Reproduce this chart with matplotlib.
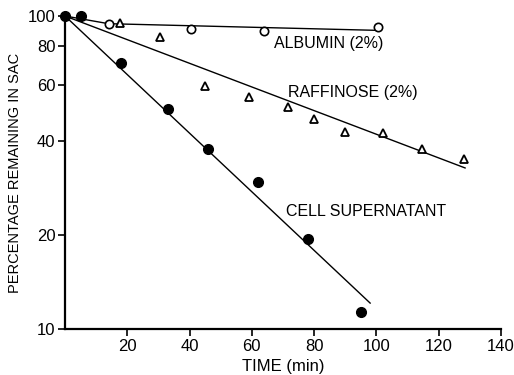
import numpy as np
import matplotlib
matplotlib.use("Agg")
import matplotlib.pyplot as plt
from matplotlib.ticker import FixedLocator, NullLocator

plt.rcParams["font.family"] = ["Liberation Sans", "DejaVu Sans"]

# measured points
cell_t = [0, 5, 18, 33, 46, 62, 78, 95]
cell_pct = [100, 100, 71, 50.5, 37.5, 29.5, 19.4, 11.3]
albumin_t = [0, 14, 40.5, 64, 100.5]
albumin_pct = [100, 94.3, 91, 89.6, 92.2]
raff_t = [5, 17.5, 30.5, 45, 59, 71.5, 80, 90, 102, 114.5, 128]
raff_pct = [100, 95, 85.7, 59.7, 55.1, 51.2, 46.9, 42.6, 42.3, 37.6, 34.9]

# drawn fit lines
cell_fit_t = [0, 98]
cell_fit_pct = [100, 12.1]
albumin_fit_t = [0, 14, 100]
albumin_fit_pct = [100, 94.5, 90]
raff_fit_t = [0, 128.5]
raff_fit_pct = [100, 32.7]

xticks = [20, 40, 60, 80, 100, 120, 140]
yticks = [10, 20, 40, 60, 80, 100]

fig = plt.figure(figsize=(5.14, 3.75), dpi=100)
ax = fig.add_axes([0.1265, 0.1227, 0.848, 0.8346])

ax.plot(cell_fit_t, cell_fit_pct, color="black", lw=1.0, zorder=2)
ax.plot(albumin_fit_t, albumin_fit_pct, color="black", lw=1.0, zorder=2)
ax.plot(raff_fit_t, raff_fit_pct, color="black", lw=1.0, zorder=2)

ax.plot(raff_t, raff_pct, ls="none", marker="^", ms=6, mfc="white", mec="black", mew=1.3, zorder=3)
ax.plot(albumin_t[1:], albumin_pct[1:], ls="none", marker="o", ms=6, mfc="white", mec="black", mew=1.2, zorder=3)
ax.plot(cell_t, cell_pct, ls="none", marker="o", ms=7, mfc="black", mec="black", zorder=4, clip_on=False)

ax.set_yscale("log")
ax.set_xlim(0, 140)
ax.set_ylim(10, 100)
ax.yaxis.set_major_locator(FixedLocator(yticks))
ax.yaxis.set_minor_locator(NullLocator())
ax.set_yticklabels([str(v) for v in yticks])
ax.set_xticks(xticks)

for s in ["top", "right"]:
    ax.spines[s].set_visible(False)
for s in ["left", "bottom"]:
    ax.spines[s].set_linewidth(1.6)
ax.tick_params(axis="both", direction="out", length=5, width=1.2, labelsize=12, pad=2)

ax.text(67, 79, "ALBUMIN (2%)", fontsize=11.5)
ax.text(71.5, 55.3, "RAFFINOSE (2%)", fontsize=11.5)
ax.text(71, 23, "CELL SUPERNATANT", fontsize=11.5)

ax.set_xlabel("TIME (min)", fontsize=12, labelpad=4)
ax.set_ylabel("PERCENTAGE REMAINING IN SAC", fontsize=10.5, labelpad=4)

fig.savefig("out.png", dpi=100)
